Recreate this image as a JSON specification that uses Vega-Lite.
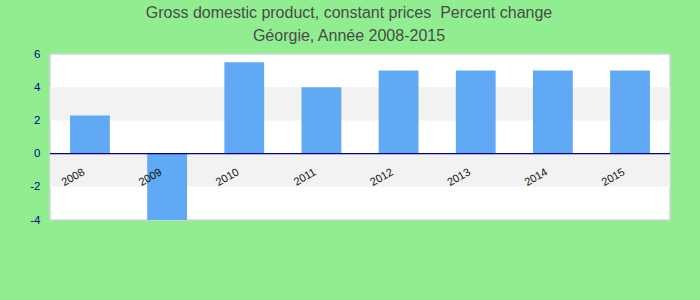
{
  "$schema": "https://vega.github.io/schema/vega-lite/v6.json",
  "width": 620,
  "height": 166,
  "autosize": {"type": "none"},
  "padding": {"left": 50, "top": 54, "right": 30, "bottom": 80},
  "background": "#90EE90",
  "config": {
    "view": {"stroke": "#d4d4d4", "strokeWidth": 1.5, "fill": "white"},
    "font": "Liberation Sans",
    "axisY": {
      "title": null,
      "values": [-4, -2, 0, 2, 4, 6],
      "labelExpr": "datum.value + ''",
      "labelOverlap": false,
      "labelFlush": false,
      "grid": false,
      "domain": false,
      "ticks": false,
      "labelPadding": 10,
      "labelFontSize": 11.5,
      "labelColor": "#00008B"
    }
  },
  "title": {
    "text": ["Gross domestic product, constant prices \u00a0Percent change", "Géorgie, Année 2008-2015"],
    "fontSize": 16,
    "fontWeight": "normal",
    "color": "#4a4a4a",
    "anchor": "middle",
    "dx": -11,
    "offset": 4,
    "lineHeight": 23
  },
  "datasets": {
    "gdp": [
      {"year": "2008", "value": 2.3},
      {"year": "2009", "value": -4.0},
      {"year": "2010", "value": 5.5},
      {"year": "2011", "value": 4.0},
      {"year": "2012", "value": 5.0},
      {"year": "2013", "value": 5.0},
      {"year": "2014", "value": 5.0},
      {"year": "2015", "value": 5.0}
    ],
    "bands": [
      {"lo": 2, "hi": 4},
      {"lo": -2, "hi": 0}
    ]
  },
  "layer": [
    {
      "data": {"name": "bands"},
      "mark": {"type": "rect", "color": "#f2f2f2"},
      "encoding": {
        "y": {
          "field": "lo",
          "type": "quantitative",
          "scale": {"domain": [-4, 6], "nice": false},
          "axis": {"values": [-4, -2, 0, 2, 4, 6], "labelOverlap": false}
        },
        "y2": {"field": "hi"}
      }
    },
    {
      "data": {"name": "gdp"},
      "mark": {"type": "bar", "color": "#62A9F5", "clip": true},
      "encoding": {
        "x": {
          "field": "year",
          "type": "nominal",
          "scale": {"paddingInner": 0.484, "paddingOuter": 0.26},
          "axis": {
            "title": null,
            "domain": false,
            "ticks": false,
            "labelAngle": -30,
            "labelAlign": "right",
            "labelBaseline": "middle",
            "labelOffset": -6,
            "labelPadding": 0,
            "offset": -49,
            "labelFontSize": 11,
            "labelColor": "#111111",
            "zindex": 2
          }
        },
        "y": {
          "field": "value",
          "type": "quantitative",
          "axis": {"values": [-4, -2, 0, 2, 4, 6], "labelOverlap": false}
        }
      }
    },
    {
      "data": {"values": [{"z": 0}]},
      "mark": {"type": "rule", "color": "#00008B", "strokeWidth": 1.2},
      "encoding": {"y": {"field": "z", "type": "quantitative", "axis": {"values": [-4, -2, 0, 2, 4, 6], "labelOverlap": false}}}
    }
  ]
}
